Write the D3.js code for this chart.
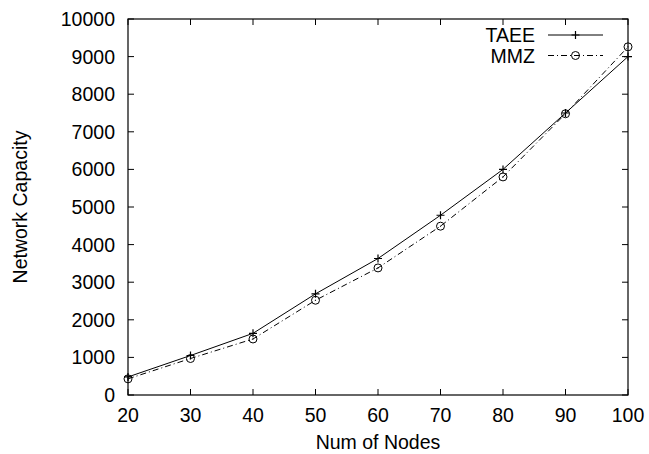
<!DOCTYPE html>
<html><head><meta charset="utf-8">
<script src="https://cdn.jsdelivr.net/npm/d3@7"></script>
<style>body{margin:0;background:#fff}text{font-family:"Liberation Sans",Arial,sans-serif;fill:#000}</style>
</head><body>
<script>
const nodes = [20,30,40,50,60,70,80,90,100];
const taee = [480,1050,1640,2690,3630,4780,6000,7500,9000];
const mmz  = [430,970,1490,2520,3380,4490,5800,7480,9260];
const xTicks = [20,30,40,50,60,70,80,90,100];
const yTicks = [0,1000,2000,3000,4000,5000,6000,7000,8000,9000,10000];
const seriesNames = ["TAEE","MMZ"];

const W=649,H=454;
const m={l:128,r:21,t:19,b:59};
const svg=d3.select("body").append("svg").attr("width",W).attr("height",H);
const x=d3.scaleLinear().domain([20,100]).range([m.l,W-m.r]);
const y=d3.scaleLinear().domain([0,10000]).range([H-m.b,m.t]);
const fs=19.5;
const g=svg.append("g");
g.append("rect").attr("x",x(20)).attr("y",y(10000)).attr("width",x(100)-x(20)).attr("height",y(0)-y(10000))
 .attr("fill","none").attr("stroke","#000").attr("stroke-width",1.2);
const tl=6;
yTicks.forEach(v=>{
  g.append("line").attr("x1",x(20)).attr("x2",x(20)+tl).attr("y1",y(v)).attr("y2",y(v)).attr("stroke","#000");
  g.append("line").attr("x1",x(100)).attr("x2",x(100)-tl).attr("y1",y(v)).attr("y2",y(v)).attr("stroke","#000");
  g.append("text").attr("x",x(20)-13).attr("y",y(v)).attr("dy","0.36em").attr("text-anchor","end").attr("font-size",fs).text(v);
});
xTicks.forEach(v=>{
  g.append("line").attr("x1",x(v)).attr("x2",x(v)).attr("y1",y(0)).attr("y2",y(0)-tl).attr("stroke","#000");
  g.append("line").attr("x1",x(v)).attr("x2",x(v)).attr("y1",y(10000)).attr("y2",y(10000)+tl).attr("stroke","#000");
  g.append("text").attr("x",x(v)).attr("y",y(0)+27).attr("text-anchor","middle").attr("font-size",fs).text(v);
});
svg.append("text").attr("x",(x(20)+x(100))/2).attr("y",449).attr("text-anchor","middle").attr("font-size",fs).text("Num of Nodes");
svg.append("text").attr("transform",`translate(27,${(y(0)+y(10000))/2}) rotate(-90)`).attr("text-anchor","middle").attr("font-size",fs).text("Network Capacity");

const line=d3.line().x((d,i)=>x(nodes[i])).y(d=>y(d));
const dash="6,3,1,3";
g.append("path").datum(taee).attr("d",line).attr("fill","none").attr("stroke","#000").attr("stroke-width",1);
g.append("path").datum(mmz).attr("d",line).attr("fill","none").attr("stroke","#000").attr("stroke-width",1).attr("stroke-dasharray",dash);
function plus(sel,cx,cy){sel.append("path").attr("d",`M${cx-4},${cy}H${cx+4}M${cx},${cy-4}V${cy+4}`).attr("stroke","#000").attr("stroke-width",1.2);}
function circ(sel,cx,cy){sel.append("circle").attr("cx",cx).attr("cy",cy).attr("r",4).attr("fill","none").attr("stroke","#000").attr("stroke-width",1);
  sel.append("circle").attr("cx",cx).attr("cy",cy).attr("r",0.6).attr("fill","#000");}
taee.forEach((v,i)=>plus(g,x(nodes[i]),y(v)));
mmz.forEach((v,i)=>circ(g,x(nodes[i]),y(v)));

const ly=[35,55.5];
seriesNames.forEach((n,i)=>{
  svg.append("text").attr("x",535).attr("y",ly[i]).attr("dy","0.36em").attr("text-anchor","end").attr("font-size",fs).text(n);
  const l=svg.append("line").attr("x1",548).attr("x2",603).attr("y1",ly[i]).attr("y2",ly[i]).attr("stroke","#000").attr("stroke-width",1);
  if(i==1){l.attr("stroke-dasharray",dash);circ(svg,575.5,ly[i]);} else plus(svg,575.5,ly[i]);
});
</script>
</body></html>
